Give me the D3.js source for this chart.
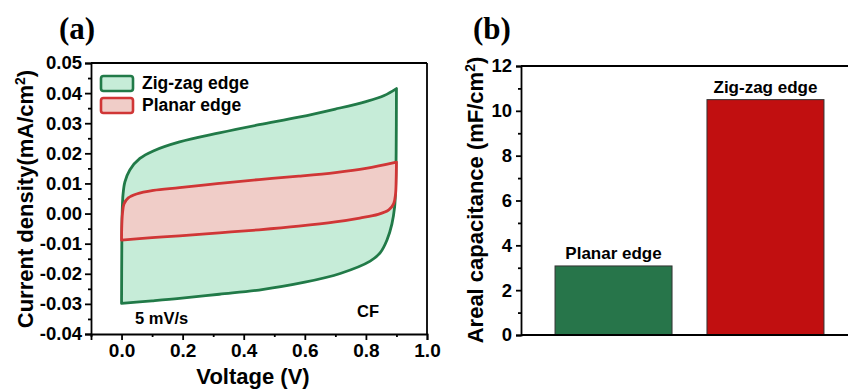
<!doctype html>
<html>
<head>
<meta charset="utf-8">
<style>
    body { margin: 0; background: #fff; }
    text { font-family: "Liberation Sans", Arial, sans-serif; font-weight: bold; fill: #000; }
    .panel { font-family: "Liberation Serif", "Times New Roman", serif; font-size: 31px; }
    .tick text { font-size: 18.5px; }
    .axis path, .axis line { stroke: #000; stroke-width: 1.8; }
</style>
<script src="https://d3js.org/d3.v7.min.js"></script>
</head>
<body>
<svg id="svg" width="848" height="389"></svg>
<script>
// ---- panel (a) data: CV loops, [voltage (V), current density (mA/cm2)]
var zigzagForward = [[0, -0.0298], [0.0008, -0.012], [0.002, 0.0], [0.005, 0.0065], [0.011, 0.0105],
    [0.027, 0.0145], [0.06, 0.0183], [0.104, 0.0208], [0.19, 0.0238], [0.32, 0.0268], [0.45, 0.0295],
    [0.58, 0.0320], [0.70, 0.0347], [0.80, 0.0372], [0.86, 0.0392], [0.90, 0.0415]];
var zigzagReverse = [[0.90, 0.0415], [0.899, 0.020], [0.897, 0.008], [0.894, 0.0022], [0.885, -0.0035],
    [0.869, -0.0088], [0.847, -0.0130], [0.814, -0.0158], [0.716, -0.0199], [0.60, -0.0228],
    [0.45, -0.0254], [0.32, -0.0268], [0.19, -0.0282], [0.10, -0.0290], [0, -0.0298]];
var planarForward = [[0, -0.0088], [0.0008, -0.004], [0.003, 0.0], [0.008, 0.0032], [0.022, 0.0052],
    [0.049, 0.0065], [0.104, 0.0077], [0.19, 0.0086], [0.32, 0.0100], [0.45, 0.0113], [0.58, 0.0124],
    [0.70, 0.0136], [0.80, 0.0150], [0.90, 0.0171]];
var planarReverse = [[0.90, 0.0171], [0.899, 0.0110], [0.897, 0.0065], [0.891, 0.0033], [0.875, 0.0012],
    [0.84, -0.0003], [0.78, -0.0015], [0.70, -0.0028], [0.58, -0.0042], [0.45, -0.0054], [0.32, -0.0064],
    [0.19, -0.0074], [0.10, -0.0080], [0, -0.0088]];

var xTicksA = [0, 0.2, 0.4, 0.6, 0.8, 1.0];
var xTickLabelsA = ["0.0", "0.2", "0.4", "0.6", "0.8", "1.0"];
var xMinorA = [-0.1, 0.1, 0.3, 0.5, 0.7, 0.9];
var yTicksA = [-0.04, -0.03, -0.02, -0.01, 0, 0.01, 0.02, 0.03, 0.04, 0.05];
var yTickLabelsA = ["-0.04", "-0.03", "-0.02", "-0.01", "0.00", "0.01", "0.02", "0.03", "0.04", "0.05"];
var yMinorA = [-0.035, -0.025, -0.015, -0.005, 0.005, 0.015, 0.025, 0.035, 0.045];

// ---- panel (b) data: areal capacitance (mF/cm2)
var barNames = ["Planar edge", "Zig-zag edge"];
var barValues = [3.08, 10.5];
var yTicksB = [0, 2, 4, 6, 8, 10, 12];
var yMinorB = [1, 3, 5, 7, 9, 11];

var svg = d3.select("#svg");
svg.append("rect").attr("width", 848).attr("height", 389).attr("fill", "#fff");

// ================= panel (a) =================
var xA = d3.scaleLinear().domain([-0.1, 1.0]).range([91, 427]);
var yA = d3.scaleLinear().domain([-0.04, 0.05]).range([334, 63]);

var line = d3.line()
    .x(function(d) { return xA(d[0]); })
    .y(function(d) { return yA(d[1]); })
    .curve(d3.curveCatmullRom.alpha(0.5));

// each sweep is smoothed on its own so the turning points stay sharp
function loopPath(fwd, rev) {
    return line(fwd) + line(rev).replace(/^M/, "L") + "Z";
}

var gA = svg.append("g");
var zigD = loopPath(zigzagForward, zigzagReverse);
var planarD = loopPath(planarForward, planarReverse);
gA.append("path").attr("d", zigD).attr("fill", "#c6ecd8").attr("stroke", "none");
gA.append("path").attr("d", zigD)
    .attr("fill", "none").attr("stroke", "#217a48").attr("stroke-width", 2.8).attr("stroke-linejoin", "round");
gA.append("path").attr("d", planarD)
    .attr("fill", "#f0cdc8").attr("stroke", "#d03636").attr("stroke-width", 2.8).attr("stroke-linejoin", "round");

// frame
gA.append("line").attr("x1", 91).attr("x2", 427).attr("y1", 63).attr("y2", 63).attr("stroke", "#000").attr("stroke-width", 1.8);
gA.append("line").attr("x1", 427).attr("x2", 427).attr("y1", 63).attr("y2", 334).attr("stroke", "#000").attr("stroke-width", 1.8);

var xAxisA = gA.append("g").attr("class", "axis").attr("transform", "translate(0,334)")
    .call(d3.axisBottom(xA).tickValues(xTicksA).tickSize(6).tickPadding(4)
        .tickFormat(function(d, i) { return xTickLabelsA[i]; }));
xAxisA.selectAll("text").style("font-size", "19px");
gA.append("g").attr("class", "axis").attr("transform", "translate(0,334)")
    .call(d3.axisBottom(xA).tickValues(xMinorA).tickSize(3).tickFormat(""))
    .select(".domain").remove();

gA.append("g").attr("class", "axis").attr("transform", "translate(91,0)")
    .call(d3.axisLeft(yA).tickValues(yTicksA).tickSize(6).tickPadding(3)
        .tickFormat(function(d, i) { return yTickLabelsA[i]; }));
gA.append("g").attr("class", "axis").attr("transform", "translate(91,0)")
    .call(d3.axisLeft(yA).tickValues(yMinorA).tickSize(3).tickFormat(""))
    .select(".domain").remove();

svg.selectAll(".axis").attr("font-family", null).attr("font-size", null);

// legend
var legend = [
    { name: "Zig-zag edge", fill: "#c6ecd8", stroke: "#217a48", y: 76 },
    { name: "Planar edge", fill: "#f0cdc8", stroke: "#d03636", y: 98 }
];
legend.forEach(function(l) {
    gA.append("rect").attr("x", 101).attr("y", l.y).attr("width", 32).attr("height", 15)
        .attr("rx", 2.5).attr("fill", l.fill).attr("stroke", l.stroke).attr("stroke-width", 2.6);
    gA.append("text").attr("x", 142).attr("y", l.y + 13).style("font-size", "17.5px").text(l.name);
});

gA.append("text").attr("x", 135).attr("y", 324).style("font-size", "16.5px").text("5 mV/s");
gA.append("text").attr("x", 357).attr("y", 317).style("font-size", "16.5px").text("CF");

gA.append("text").attr("x", 253).attr("y", 384).attr("text-anchor", "middle")
    .style("font-size", "22px").text("Voltage (V)");

var yt = gA.append("text").attr("transform", "translate(33,199) rotate(-90)")
    .attr("text-anchor", "middle").style("font-size", "22px");
yt.append("tspan").text("Current density(mA/cm");
yt.append("tspan").attr("dy", -8).style("font-size", "14px").text("2");
yt.append("tspan").attr("dy", 8).text(")");

svg.append("text").attr("class", "panel").attr("x", 59).attr("y", 39).text("(a)");

// ================= panel (b) =================
var xB = d3.scaleBand().domain(barNames).range([521, 858]).paddingInner(0.23).paddingOuter(0.224);
var yB = d3.scaleLinear().domain([0, 12]).range([335, 66]);
var barColors = ["#27754a", "#c10f10"];

var gB = svg.append("g");
gB.selectAll(".bar").data(barNames).enter().append("rect")
    .attr("class", "bar")
    .attr("x", function(d) { return xB(d); })
    .attr("y", function(d, i) { return yB(barValues[i]); })
    .attr("width", xB.bandwidth())
    .attr("height", function(d, i) { return yB(0) - yB(barValues[i]); })
    .attr("fill", function(d, i) { return barColors[i]; })
    .attr("stroke", "#333").attr("stroke-width", 1);

gB.selectAll(".blabel").data(barNames).enter().append("text")
    .attr("x", function(d) { return xB(d) + xB.bandwidth() / 2; })
    .attr("y", function(d, i) { return yB(barValues[i]) - 7; })
    .attr("text-anchor", "middle").style("font-size", "17px")
    .text(function(d) { return d; });

gB.append("line").attr("x1", 521).attr("x2", 858).attr("y1", 66).attr("y2", 66).attr("stroke", "#000").attr("stroke-width", 1.8);
gB.append("line").attr("x1", 521).attr("x2", 858).attr("y1", 335).attr("y2", 335).attr("stroke", "#000").attr("stroke-width", 2.2);

gB.append("g").attr("class", "axis").attr("transform", "translate(521,0)")
    .call(d3.axisLeft(yB).tickValues(yTicksB).tickSize(5).tickPadding(4).tickFormat(d3.format("d")));
gB.append("g").attr("class", "axis").attr("transform", "translate(521,0)")
    .call(d3.axisLeft(yB).tickValues(yMinorB).tickSize(3).tickFormat(""))
    .select(".domain").remove();
svg.selectAll(".axis").attr("font-family", null).attr("font-size", null);

var ytb = gB.append("text").attr("transform", "translate(483,200) rotate(-90)")
    .attr("text-anchor", "middle").style("font-size", "22px");
ytb.append("tspan").text("Areal capacitance (mF/cm");
ytb.append("tspan").attr("dy", -8).style("font-size", "14px").text("2");
ytb.append("tspan").attr("dy", 8).text(")");

svg.append("text").attr("class", "panel").attr("x", 473).attr("y", 39).text("(b)");
</script>
</body>
</html>
